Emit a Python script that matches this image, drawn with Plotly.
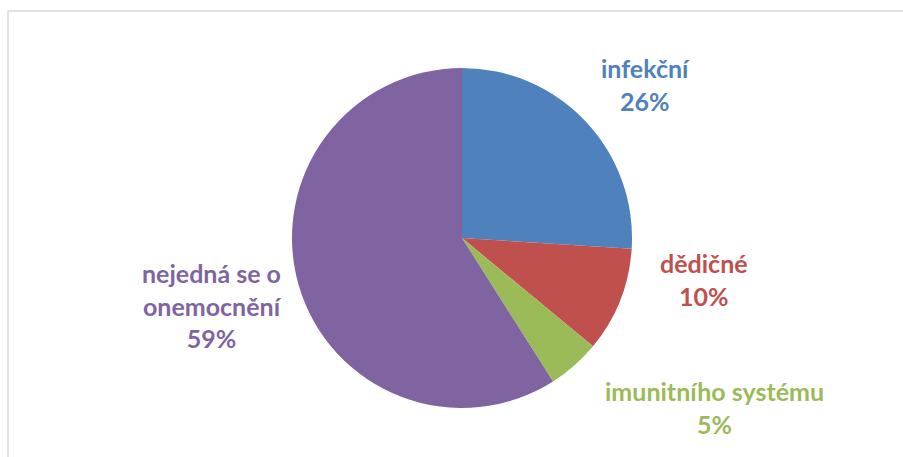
import plotly.graph_objects as go

# Data
categories = ["infekční", "dědičné", "imunitního systému", "nejedná se o onemocnění"]
values = [26, 10, 5, 59]
label_lines = ["infekční", "dědičné", "imunitního systému", "nejedná se o<br>onemocnění"]
colors = ["#4F81BD", "#C0504D", "#9BBB59", "#8064A2"]

W, H = 903, 457

# Label block centres (pixels from top-left)
label_pos = [(645, 85), (704, 279), (714, 407), (212, 305)]

fig = go.Figure()
fig.add_trace(go.Pie(
    labels=categories,
    values=values,
    sort=False,
    direction="clockwise",
    rotation=0,
    marker=dict(colors=colors, line=dict(color="white", width=0)),
    textinfo="none",
    hoverinfo="label+percent",
    showlegend=False,
    domain=dict(x=[292 / W, 632 / W], y=[1 - 408 / H, 1 - 68 / H]),
))

total = sum(values)
for txt, v, c, (px, py) in zip(label_lines, values, colors, label_pos):
    fig.add_annotation(
        x=px / W, y=1 - py / H, xref="paper", yref="paper",
        text=f"<b>{txt}<br>{round(v / total * 100)}%</b>",
        showarrow=False, xanchor="center", yanchor="middle", align="center",
        font=dict(family="Lato", size=25, color=c),
    )

# Chart area frame (top and left edges)
frame = dict(color="#D9D9D9", width=1.5)
fig.add_shape(type="line", xref="paper", yref="paper",
              x0=8 / W, x1=1, y0=1 - 11 / H, y1=1 - 11 / H, line=frame)
fig.add_shape(type="line", xref="paper", yref="paper",
              x0=8 / W, x1=8 / W, y0=0, y1=1 - 11 / H, line=frame)

fig.update_layout(
    width=W, height=H,
    margin=dict(l=0, r=0, t=0, b=0),
    paper_bgcolor="white", plot_bgcolor="white",
)

fig.write_html("out.html")
